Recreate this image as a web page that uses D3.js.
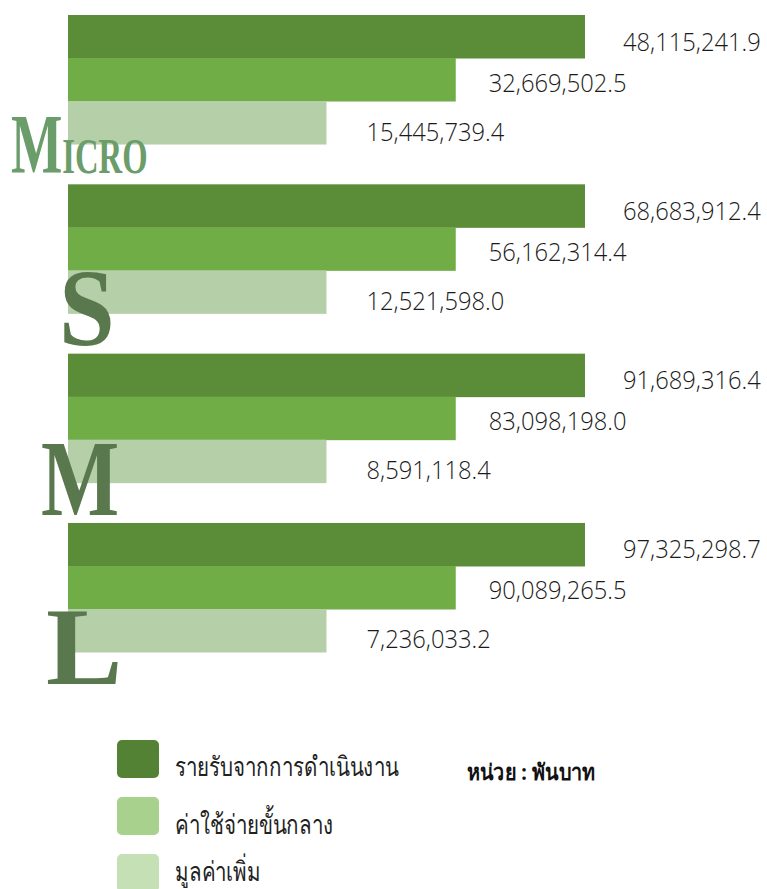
<!DOCTYPE html>
<html><head><meta charset="utf-8">
<script src="https://cdn.jsdelivr.net/npm/d3@7"></script>
<style>
html,body{margin:0;padding:0;background:#fff;}
svg{display:block;}
</style></head>
<body>
<svg id="chart" width="767" height="889"></svg>
<script>
// ---- data ----
const groups = ["Micro", "S", "M", "L"];
const series = ["รายรับจากการดำเนินงาน", "ค่าใช้จ่ายขั้นกลาง", "มูลค่าเพิ่ม"];
const revenue      = [48115241.9, 68683912.4, 91689316.4, 97325298.7];
const intermediate = [32669502.5, 56162314.4, 83098198.0, 90089265.5];
const valueAdded   = [15445739.4, 12521598.0, 8591118.4, 7236033.2];
const unitLabel = "หน่วย : พันบาท";

const seriesValues = [revenue, intermediate, valueAdded];
const barColors = ["#5b8d39", "#70ad47", "#b5cfa8"];
const legendColors = ["#548235", "#a9d18e", "#c5e0b4"];

const svg = d3.select("#chart");

const y = d3.scaleBand().domain(groups).range([15, 652]).paddingInner(0.238).paddingOuter(0);
const ySub = d3.scaleBand().domain(d3.range(series.length)).range([0, y.bandwidth()]);
// bars drawn in fixed visual proportions 4:3:2 per series rank (as in the original graphic)
const x = d3.scaleLinear().domain([0, 4]).range([68, 585]);
const fmt = d3.format(",.1f");

const rows = [];
groups.forEach((g, gi) => series.forEach((s, si) => rows.push({g, si, v: seriesValues[si][gi]})));

svg.append("g").selectAll("rect").data(rows).join("rect")
  .attr("x", x(0))
  .attr("y", d => y(d.g) + ySub(d.si))
  .attr("width", d => x(4 - d.si) - x(0))
  .attr("height", ySub.bandwidth() + 0.5)
  .attr("fill", d => barColors[d.si]);

const labOff = [38, 33, 40];
const labDy = [5, 3, 9];
svg.append("g").selectAll("g").data(rows).join("g")
  .attr("transform", d => `translate(${x(4 - d.si) + labOff[d.si]},${y(d.g) + ySub(d.si) + ySub.bandwidth()/2 + labDy[d.si] + 9}) scale(0.95,1)`)
  .append("text")
  .attr("font-family", "'Open Sans', 'Noto Sans', sans-serif")
  .attr("font-weight", 350)
  .attr("font-size", 25)
  .attr("fill", "#1a1a1a")
  .text(d => fmt(d.v));

// big serif group letters
const letterFont = "'Liberation Serif', 'Times New Roman', serif";
const micro = svg.append("g").attr("transform", "translate(11,173) scale(0.64,1)");
micro.append("text").attr("font-family", letterFont).attr("font-weight", "bold")
  .attr("fill", "#6b9d6b").attr("font-size", 85)
  .selectAll("tspan").data([["M", 85], ["ICRO", 51]]).join("tspan")
  .attr("font-size", d => d[1]).text(d => d[0]);

const letterSpec = {S: {x: 59, sx: 0.92}, M: {x: 41, sx: 0.76}, L: {x: 46, sx: 1.05}};
groups.slice(1).forEach(g => {
  const spec = letterSpec[g];
  svg.append("g")
    .attr("transform", `translate(${spec.x},${y(g) + y.bandwidth() + 32}) scale(${spec.sx},1)`)
    .append("text").attr("font-family", letterFont).attr("font-weight", "bold")
    .attr("fill", "#5a784e").attr("font-size", 109).text(g);
});

// legend
const lg = svg.append("g");
const ly = d3.scaleBand().domain(series).range([740, 911]);
const textBase = [36, 37, 27];
lg.selectAll("rect").data(series).join("rect")
  .attr("x", 117).attr("y", d => ly(d)).attr("width", 42).attr("height", 38)
  .attr("rx", 5).attr("fill", (d, i) => legendColors[i]);
lg.selectAll("g").data(series).join("g")
  .attr("transform", (d, i) => `translate(175,${ly(d) + textBase[i]}) scale(0.76,1)`)
  .append("text")
  .attr("font-family", "'Noto Sans', sans-serif").attr("font-size", 27).attr("fill", "#222")
  .text(d => d);

svg.append("g").attr("transform", "translate(467,780) scale(0.9,1)")
  .append("text")
  .attr("font-family", "'Noto Sans', sans-serif").attr("font-size", 22).attr("font-weight", "bold")
  .attr("fill", "#111").text(unitLabel);
</script>
</body></html>
